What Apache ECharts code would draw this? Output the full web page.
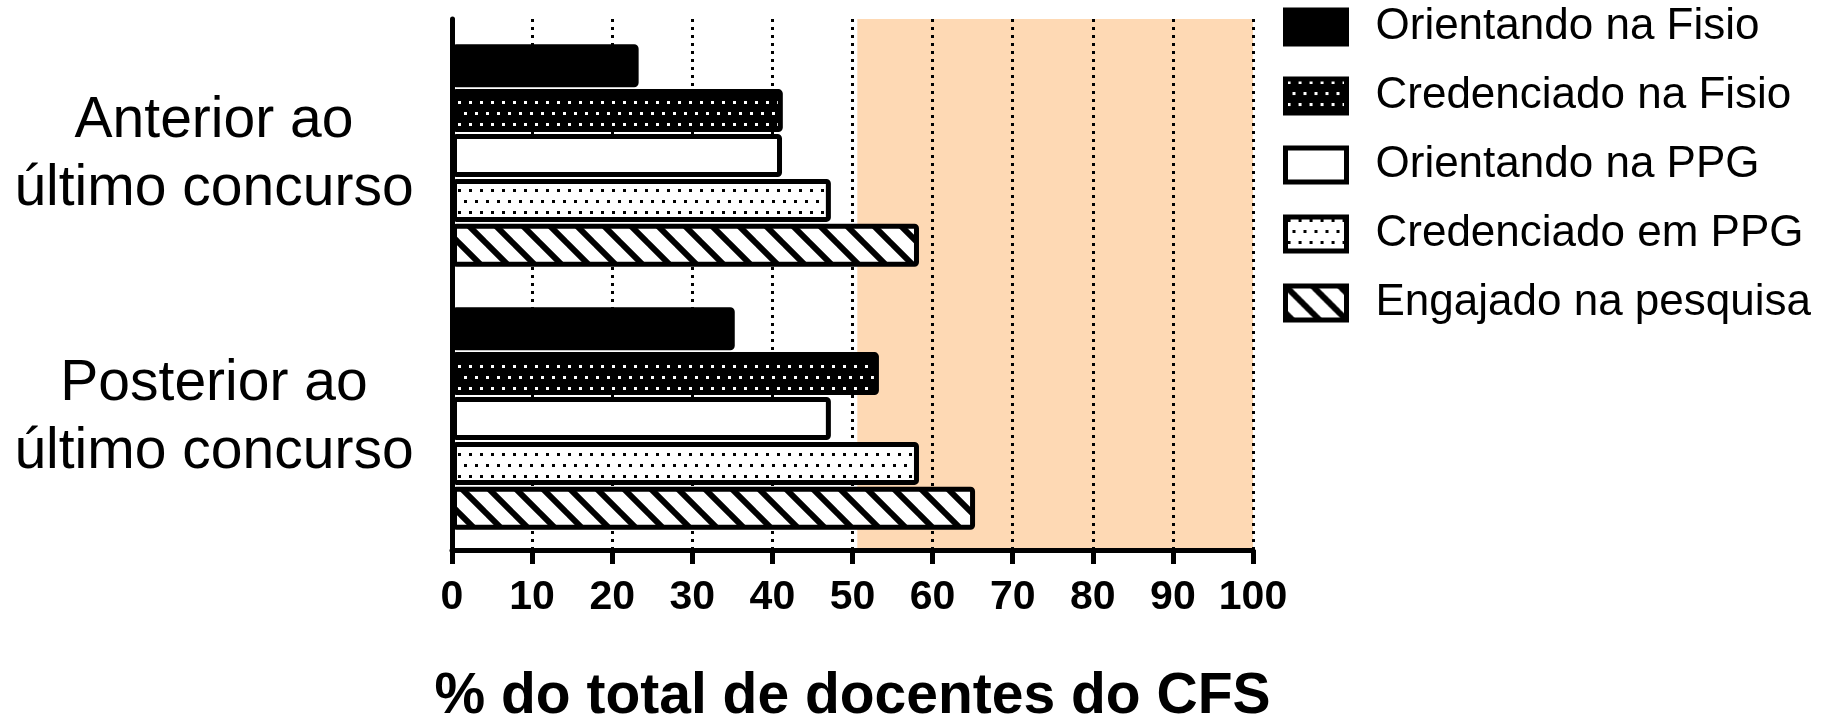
<!DOCTYPE html>
<html>
<head>
<meta charset="utf-8">
<title>Docentes CFS</title>
<script src="https://cdn.jsdelivr.net/npm/echarts@6.0.0/dist/echarts.min.js"></script>
<style>
  html, body { margin: 0; padding: 0; background: #fff; }
  #chart { width: 1825px; height: 720px; }
</style>
</head>
<body>
<div id="chart"></div>
<script>
const categories = ['Anterior ao\núltimo concurso', 'Posterior ao\núltimo concurso']
const seriesNames = ['Orientando na Fisio', 'Credenciado na Fisio', 'Orientando na PPG', 'Credenciado em PPG', 'Engajado na pesquisa']
const orientandoFisio = [23.3, 35.3]
const credenciadoFisio = [41.3, 53.3]
const orientandoPPG = [41.2, 47.3]
const credenciadoPPG = [47.3, 58.3]
const engajado = [58.3, 65.3]
const xMin = 0, xMax = 100, xStep = 10
const shadeRange = [50.6, 100.9]

const FONT = '"Liberation Sans", Arial, sans-serif'

// small canvas tiles used as repeating fills
const makeTile = (w, h, draw) => {
  const c = document.createElement('canvas')
  c.width = w
  c.height = h
  draw(c.getContext('2d'))
  return { image: c, repeat: 'repeat' }
}

const dots = (bg, fg) => makeTile(22, 22, ctx => {
  ctx.fillStyle = bg
  ctx.fillRect(0, 0, 22, 22)
  ctx.fillStyle = fg
  ;[[0, 0], [11, 0], [5, 11], [16, 11]].forEach(([x, y]) => ctx.fillRect(x + 2, y + 2, 3, 3))
})

const hatch = makeTile(27, 27, ctx => {
  ctx.fillStyle = '#fff'
  ctx.fillRect(0, 0, 27, 27)
  ctx.strokeStyle = '#000'
  ctx.lineWidth = 6
  ctx.beginPath()
  for (const k of [-27, 0, 27]) {
    ctx.moveTo(-2, k - 2)
    ctx.lineTo(29, 29 + k)
  }
  ctx.stroke()
})

const fills = ['#000', dots('#000', '#fff'), '#fff', dots('#fff', '#000'), hatch]
const values = [orientandoFisio, credenciadoFisio, orientandoPPG, credenciadoPPG, engajado]

// bars live in grid 1 (slightly lower band), axes + grid lines in grid 0
const series = seriesNames.map((name, i) => ({
  name,
  type: 'bar',
  xAxisIndex: 1,
  yAxisIndex: 1,
  data: values[i],
  barWidth: 43,
  barGap: '4.4%',
  itemStyle: { color: fills[i], borderColor: '#000', borderWidth: 5, borderRadius: 2 }
}))

// peach shaded zone behind the dotted grid lines
series.push({
  name: 'zona',
  type: 'line',
  xAxisIndex: 0,
  yAxisIndex: 0,
  data: [],
  clip: false,
  markArea: {
    silent: true,
    z: -1,
    itemStyle: { color: '#FED9B4' },
    data: [[{ xAxis: shadeRange[0] }, { xAxis: shadeRange[1] }]]
  }
})

const chart = echarts.init(document.getElementById('chart'))

chart.setOption({
  animation: false,
  textStyle: { fontFamily: FONT, color: '#000' },
  grid: [
    { left: 452, right: 572, top: 19, bottom: 170, outerBoundsMode: 'none', containLabel: false },
    { left: 452, right: 572, top: 24, bottom: 170, outerBoundsMode: 'none', containLabel: false }
  ],
  legend: {
    orient: 'vertical',
    left: 1283,
    top: 5,
    padding: 0,
    icon: 'rect',
    itemWidth: 61,
    itemHeight: 34,
    itemGap: 25,
    data: seriesNames,
    itemStyle: { borderColor: '#000', borderWidth: 5 },
    textStyle: { fontSize: 44, color: '#000', fontFamily: FONT, lineHeight: 44, padding: [0, 0, 0, 24] }
  },
  xAxis: [
    {
      type: 'value',
      gridIndex: 0,
      min: xMin,
      max: xMax,
      interval: xStep,
      name: '% do total de docentes do CFS',
      nameLocation: 'middle',
      nameGap: 119,
      nameTextStyle: { fontSize: 57, fontWeight: 'bold', color: '#000', fontFamily: FONT },
      axisLine: { show: true, lineStyle: { color: '#000', width: 5 } },
      axisTick: { show: true, length: 14, lineStyle: { color: '#000', width: 5 } },
      axisLabel: { fontSize: 41, fontWeight: 'bold', color: '#000', margin: 27, fontFamily: FONT },
      splitLine: { show: true, lineStyle: { color: '#000', width: 3, type: [3, 5] } }
    },
    {
      type: 'value',
      gridIndex: 1,
      min: xMin,
      max: xMax,
      interval: xStep,
      show: false
    }
  ],
  yAxis: [
    {
      type: 'category',
      gridIndex: 0,
      inverse: true,
      data: categories,
      axisLine: { show: true, lineStyle: { color: '#000', width: 5 } },
      axisTick: { show: false },
      axisLabel: { show: false },
      splitLine: { show: false }
    },
    {
      type: 'category',
      gridIndex: 1,
      inverse: true,
      data: categories,
      axisLine: { show: false },
      axisTick: { show: false },
      axisLabel: { fontSize: 57, color: '#000', align: 'center', margin: 238, lineHeight: 68, fontFamily: FONT },
      splitLine: { show: false }
    }
  ],
  series
})
</script>
</body>
</html>
